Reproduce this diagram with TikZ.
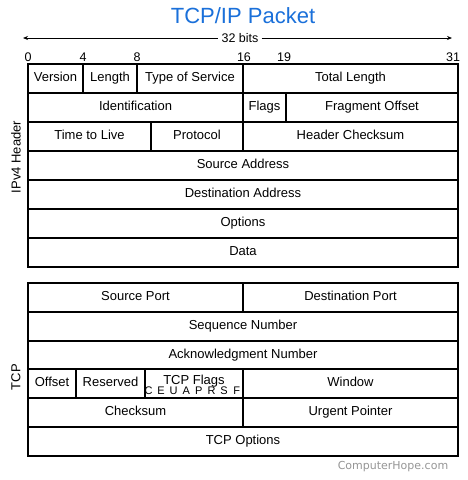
\documentclass[tikz,border=0pt]{standalone}
\usepackage{fontspec}
\setmainfont{Liberation Sans}
\newfontfamily\wmfont{DejaVu Sans}
\usetikzlibrary{arrows.meta}
\definecolor{titleblue}{RGB}{26,112,218}
\definecolor{wmgray}{RGB}{150,150,150}
\tikzset{
  cell/.style={draw=black, line width=1.6pt, inner sep=0pt, outer sep=0pt,
    font=\fontsize{13}{15}\selectfont, align=center, text height=9.6pt, text depth=2.8pt},
  tick/.style={font=\fontsize{12.5}{14}\selectfont, inner sep=0pt},
  side/.style={font=\fontsize{13}{15}\selectfont, rotate=90, inner sep=0pt},
  flagletter/.style={font=\fontsize{11}{13}\selectfont, inner sep=0pt, anchor=base}
}
\newcommand\pcell[6]{\node[cell, minimum width={(#4-#2)*1pt}, minimum height={(#5-#3)*1pt}]
  (#1) at ({(#2+#4)/2},{(#3+#5)/2}) {#6};}
\begin{document}
\begin{tikzpicture}[x=1pt,y=-1pt]
\useasboundingbox[fill=white] (0,0) rectangle (468,480);
% title
\node[text=titleblue, font=\fontsize{22}{26}\selectfont, inner sep=0pt] (title) at (243,16) {TCP/IP Packet};
% 32 bits span
\coordinate (al) at (23,38);
\coordinate (ar) at (452,38);
\node[font=\fontsize{12.5}{14}\selectfont, inner sep=3pt] (bits) at (240,38) {32 bits};
\draw[line width=0.8pt, {Stealth[length=5pt,width=4pt]}-] (al) -- (bits.west);
\draw[line width=0.8pt, -{Stealth[length=5pt,width=4pt]}] (bits.east) -- (ar);
% ticks
\node[tick] (t0) at (28,57) {0};
\node[tick] (t4) at (83,57) {4};
\node[tick] (t8) at (137,57) {8};
\node[tick] (t16) at (244,57) {16};
\node[tick] (t19) at (284,57) {19};
\node[tick] (t31) at (453,57) {31};
% IPv4 header
\pcell{ver}{28}{64}{83}{93}{Version}
\pcell{len}{83}{64}{137}{93}{Length}
\pcell{tos}{137}{64}{243}{93}{Type of Service}
\pcell{tlen}{243}{64}{458}{93}{Total Length}
\pcell{ident}{28}{93}{243}{122}{Identification}
\pcell{flags}{243}{93}{286}{122}{Flags}
\pcell{frag}{286}{93}{458}{122}{Fragment Offset}
\pcell{ttl}{28}{122}{151}{151}{Time to Live}
\pcell{proto}{151}{122}{243}{151}{Protocol}
\pcell{hcs}{243}{122}{458}{151}{Header Checksum}
\pcell{src}{28}{151}{458}{180}{Source Address}
\pcell{dst}{28}{180}{458}{209}{Destination Address}
\pcell{opt}{28}{209}{458}{238}{Options}
\pcell{data}{28}{238}{458}{267}{Data}
\node[side] (ipv4lbl) at (16,157) {IPv4 Header};
% TCP
\pcell{sport}{28}{283}{243}{312}{Source Port}
\pcell{dport}{243}{283}{458}{312}{Destination Port}
\pcell{seq}{28}{312}{458}{341}{Sequence Number}
\pcell{ack}{28}{341}{458}{369}{Acknowledgment Number}
\pcell{off}{28}{369}{76}{398}{Offset}
\pcell{res}{76}{369}{145}{398}{Reserved}
\pcell{tflags}{145}{369}{243}{398}{}
\pcell{win}{243}{369}{458}{398}{Window}
\pcell{csum}{28}{398}{243}{427}{Checksum}
\pcell{urg}{243}{398}{458}{427}{Urgent Pointer}
\pcell{topt}{28}{427}{458}{456}{TCP Options}
\node[font=\fontsize{13}{15}\selectfont, inner sep=0pt, anchor=base] (tflagstxt) at (194,384) {TCP Flags};
\foreach \L [count=\i from 0] in {C,E,U,A,P,R,S,F}{
  \node[flagletter] (fl\i) at ({148.5+\i*12.6},394.5) {\L};
}
\node[side] (tcplbl) at (16,377) {TCP};
% watermark
\node[text=wmgray, font=\wmfont\fontsize{11}{13}\selectfont, inner sep=0pt] (wm) at (393,467) {ComputerHope.com};
\end{tikzpicture}
\end{document}
